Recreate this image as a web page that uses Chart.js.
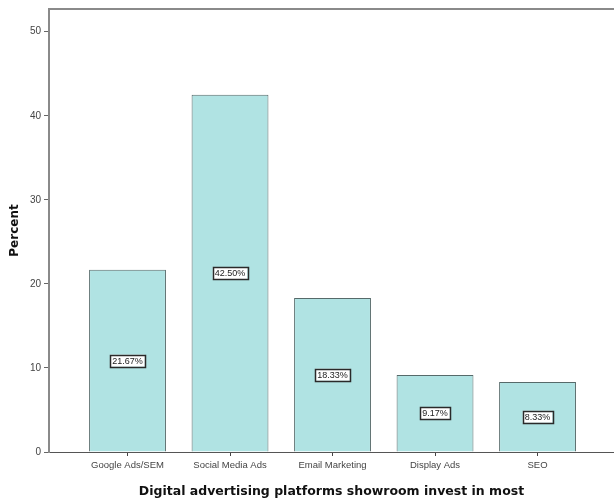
<!DOCTYPE html>
<html>
<head>
<meta charset="utf-8">
<script src="https://cdn.jsdelivr.net/npm/chart.js@4/dist/chart.umd.min.js"></script>
<style>
  html, body { margin: 0; padding: 0; background: #fff; }
  #wrap { width: 614px; height: 502px; }
</style>
</head>
<body>
<div id="wrap"><canvas id="grafico" width="614" height="502"></canvas></div>
<script>
// Datos
const plataformas = ['Google Ads/SEM', 'Social Media Ads', 'Email Marketing', 'Display Ads', 'SEO'];
const porcentajes = [21.67, 42.50, 18.33, 9.17, 8.33];
const ticksY = [0, 10, 20, 30, 40, 50];

// Etiquetas en caja a media altura de cada barra
const etiquetas = {
    id: 'etiquetas',
    afterDatasetsDraw(chart) {
        const ctx = chart.ctx;
        const meta = chart.getDatasetMeta(0);
        ctx.save();
        ctx.font = '9px "Liberation Sans", Arial, sans-serif';
        ctx.textAlign = 'center';
        ctx.textBaseline = 'middle';
        meta.data.forEach((bar, i) => {
            const txt = porcentajes[i].toFixed(2) + '%';
            const y = (bar.y + bar.base) / 2;
            const w = ctx.measureText(txt).width + 4;
            ctx.fillStyle = '#fff';
            ctx.fillRect(bar.x - w / 2, y - 6, w, 12);
            ctx.strokeStyle = '#2a2a2a';
            ctx.lineWidth = 1.5;
            ctx.strokeRect(Math.round(bar.x - w / 2) + 0.5, Math.round(y - 6) + 0.5, Math.round(w), 12);
            ctx.fillStyle = '#222';
            ctx.fillText(txt, bar.x, y + 0.5);
        });
        ctx.restore();
    }
};

// Marco superior
const marco = {
    id: 'marco',
    beforeDatasetsDraw(chart) {
        const a = chart.chartArea;
        const ctx = chart.ctx;
        ctx.save();
        ctx.strokeStyle = '#8a8a8a';
        ctx.lineWidth = 2;
        ctx.beginPath();
        ctx.moveTo(a.left, a.top);
        ctx.lineTo(a.right, a.top);
        ctx.stroke();
        ctx.restore();
    }
};

new Chart(document.getElementById('grafico').getContext('2d'), {
    type: 'bar',
    data: {
        datasets: [{
            label: 'Percent',
            data: plataformas.map((p, i) => ({ x: i, y: porcentajes[i] })),
            backgroundColor: '#b0e3e3',
            borderColor: '#566a6a',
            borderWidth: 1,
            categoryPercentage: 1,
            barPercentage: 0.75
        }]
    },
    options: {
        responsive: false,
        animation: false,
        layout: { padding: { top: 9, right: 0, left: 0, bottom: 0 } },
        plugins: {
            legend: { display: false },
            tooltip: { enabled: false }
        },
        scales: {
            x: {
                type: 'linear',
                offset: false,
                min: -0.766,
                max: 4.746,
                afterBuildTicks: s => { s.ticks = plataformas.map((p, i) => ({ value: i })); },
                afterFit: s => { s.height = 50; },
                grid: { drawOnChartArea: false, offset: false, tickLength: 4, color: '#444', lineWidth: 1 },
                border: { color: '#555', width: 1 },
                ticks: {
                    autoSkip: false,
                    maxRotation: 0,
                    padding: 4,
                    color: '#444',
                    font: { family: '"Liberation Sans", Arial, sans-serif', size: 9.5 },
                    callback: v => plataformas[v]
                },
                title: {
                    display: true,
                    text: 'Digital advertising platforms showroom invest in most',
                    color: '#111',
                    padding: { top: 2, bottom: 3 },
                    font: { family: '"DejaVu Sans", Verdana, sans-serif', size: 12.5, weight: 'bold' }
                }
            },
            y: {
                min: 0,
                max: 52.7,
                afterBuildTicks: s => { s.ticks = ticksY.map(v => ({ value: v })); },
                afterFit: s => { s.width = 49; },
                grid: { drawOnChartArea: false, tickLength: 5, color: '#666' },
                border: { color: '#8a8a8a', width: 2 },
                ticks: {
                    padding: 3,
                    color: '#444',
                    font: { family: '"Liberation Sans", Arial, sans-serif', size: 10 }
                },
                title: {
                    display: true,
                    text: 'Percent',
                    color: '#111',
                    padding: { top: 8, bottom: 0 },
                    font: { family: '"DejaVu Sans", Verdana, sans-serif', size: 12, weight: 'bold' }
                }
            }
        }
    },
    plugins: [marco, etiquetas]
});
</script>
</body>
</html>
